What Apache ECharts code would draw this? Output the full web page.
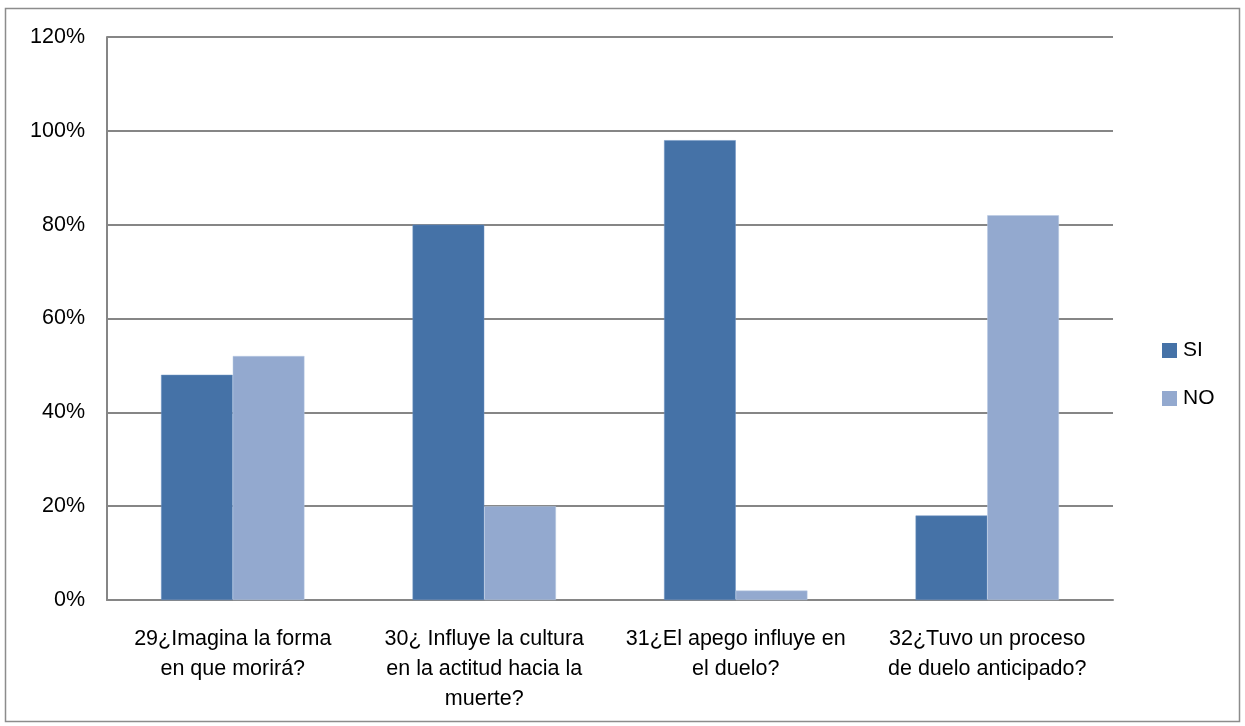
<!DOCTYPE html>
<html>
<head>
<meta charset="utf-8">
<script src="https://cdn.jsdelivr.net/npm/echarts@6/dist/echarts.min.js"></script>
<style>
  html, body { margin: 0; padding: 0; background: #fff; }
  #chart { width: 1245px; height: 726px; }
</style>
</head>
<body>
<div id="chart"></div>
<script>
// Survey questions (category axis) and answer shares in percent
const categories = [
  '29¿Imagina la forma\nen que morirá?',
  '30¿ Influye la cultura\nen la actitud hacia la\nmuerte?',
  '31¿El apego influye en\nel duelo?',
  '32¿Tuvo un proceso\nde duelo anticipado?'
];
const siValues = [48, 80, 98, 18];
const noValues = [52, 20, 2, 82];
const yTicks = { min: 0, max: 120, interval: 20 };

const FONT = '"Liberation Sans", sans-serif';

const chart = echarts.init(document.getElementById('chart'), null, { renderer: 'canvas' });
chart.setOption({
  animation: false,
  backgroundColor: '#ffffff',
  graphic: [{
    type: 'rect',
    shape: { x: 5.5, y: 8.5, width: 1234, height: 713 },
    style: { fill: 'none', stroke: '#8c8c8c', lineWidth: 1.5 },
    silent: true
  }],
  grid: { left: 107, right: 132, top: 37, bottom: 126 },
  legend: {
    orient: 'vertical',
    left: 1157,
    top: 335,
    itemWidth: 15,
    itemHeight: 15,
    itemGap: 27,
    icon: 'rect',
    itemStyle: { borderWidth: 0 },
    textStyle: { fontFamily: FONT, fontSize: 21, color: '#000', padding: [0, 0, 0, 1] },
    data: ['SI', 'NO']
  },
  xAxis: {
    type: 'category',
    data: categories,
    axisLine: { lineStyle: { color: '#868686', width: 2 } },
    axisTick: { show: false },
    axisLabel: {
      interval: 0,
      margin: 24,
      fontFamily: FONT,
      fontSize: 21.5,
      lineHeight: 30,
      color: '#000'
    }
  },
  yAxis: {
    type: 'value',
    min: yTicks.min,
    max: yTicks.max,
    interval: yTicks.interval,
    axisLine: { show: true, lineStyle: { color: '#868686', width: 2 } },
    axisTick: { show: false },
    splitLine: { lineStyle: { color: '#868686', width: 2 } },
    axisLabel: {
      margin: 22,
      fontFamily: FONT,
      fontSize: 21.5,
      color: '#000',
      formatter: v => v + '%'
    }
  },
  series: [
    {
      name: 'SI',
      type: 'bar',
      data: siValues,
      barGap: '0%',
      barCategoryGap: '43%',
      itemStyle: { color: '#4572A7', borderColor: '#6f93c2', borderWidth: 0.5 }
    },
    {
      name: 'NO',
      type: 'bar',
      data: noValues,
      itemStyle: { color: '#93A9CF', borderColor: '#b7c8e3', borderWidth: 0.5 }
    }
  ]
});
</script>
</body>
</html>
